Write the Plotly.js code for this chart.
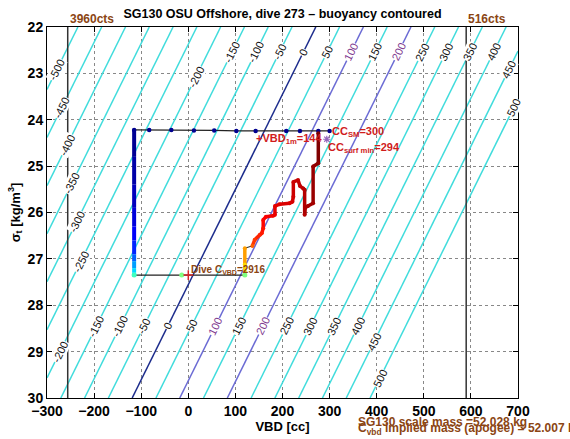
<!DOCTYPE html>
<html><head><meta charset="utf-8">
<script src="https://cdn.plot.ly/plotly-3.0.1.min.js"></script>
<style>html,body{margin:0;padding:0;background:#fff;}#chart{width:570px;height:439px;}</style>
</head><body><div id="chart"></div>
<script>
// ---- buoyancy plane (g) read at the plot corners ----
const cornerVBD = [-300, 700];
const cornerSigma = [22, 30];
const cornerBuoy = [[-565, 425], [-179, 811]];
const levelStart = -500, levelEnd = 500, levelStep = 50;
const highlightLevels = [0, 100, 200];
const highlightColors = ['#1c2c8c', '#6b6bd4', '#6b6bd4'];

// ---- contour label placement: level and sigma where the label sits ----
const labelLevels = [-500,-450,-400,-350,-300,-250,-200,-200,
  -150,-100,-50,0,50,100,150,200,250,300,350,400,450,500,
  -150,-100,-50,0,50,100,150,200,250,300,350,400,450,500];
const labelSigmas = [22.93,23.75,24.54,25.37,26.2,27.06,23.07,29.0,
  22.54,22.54,22.54,22.54,22.54,22.54,22.54,22.54,22.54,22.54,22.54,22.54,22.93,23.75,
  28.45,28.45,28.45,28.45,28.45,28.45,28.45,28.45,28.45,28.45,28.45,28.45,28.79,29.58];

// ---- dive: descent (constant VBD) ----
const descVBD = [-115,-115,-115,-115,-115,-115,-115,-115,-115,-115,-115];
const descSigma = [24.22,24.8,25.4,25.9,26.3,26.6,26.9,27.05,27.2,27.3,27.35];
const descT = [0.0,0.02,0.04,0.06,0.09,0.12,0.16,0.22,0.28,0.34,0.38];

// ---- apogee pump ----
const apoVBD = [-115, -14, 0, 120];
const apoSigma = [27.35, 27.35, 27.35, 27.35];

// ---- ascent ----
const ascVBD = [120,120,120,136,141,152,156,159,159,165,180,184,184,194,215,221,223,223,233,237,244,247,247,248,254,265,265,276,276];
const ascSigma = [27.35,27.12,26.77,26.72,26.59,26.48,26.45,26.34,26.16,26.09,26.07,26.05,25.86,25.82,25.80,25.77,25.66,25.34,25.30,25.43,25.48,25.51,26.05,25.90,25.86,25.80,25.01,24.94,24.29];
const ascT = [0.60,0.66,0.72,0.78,0.82,0.84,0.85,0.86,0.87,0.88,0.89,0.895,0.90,0.905,0.91,0.915,0.92,0.925,0.93,0.935,0.94,0.945,0.95,0.955,0.96,0.965,0.975,0.985,1.0];

// ---- surface line ----
const surfVBD = [-115,-83,-36,12,55,102,143,208,237,276,300];
const surfSigma = [24.22,24.22,24.22,24.23,24.23,24.24,24.24,24.24,24.24,24.24,24.24];

// ---- count limits ----
const countVBD = [-256, 590];
const countLabels = ['3960cts', '516cts'];

const CYAN = '#40dcdc', BROWN = '#8b4513', RED = '#d01c1c';
const FONT = 'Liberation Sans, Arial, sans-serif';

function jet(t){
  const c = v => Math.round(255*Math.max(0, Math.min(1, v)));
  return 'rgb(' + c(1.5-Math.abs(4*t-3)) + ',' + c(1.5-Math.abs(4*t-2)) + ',' + c(1.5-Math.abs(4*t-1)) + ')';
}
function buildScale(){
  const sc = [[0, CYAN]];
  highlightLevels.forEach((L,i)=>{
    const p = (L-levelStart)/(levelEnd-levelStart);
    sc.push([p-0.01, CYAN],[p-0.004, highlightColors[i]],[p+0.004, highlightColors[i]],[p+0.01, CYAN]);
  });
  sc.push([1, CYAN]);
  return sc;
}
function labelVBD(level, sigma){
  const zTL = cornerBuoy[0][0], zTR = cornerBuoy[0][1], zBL = cornerBuoy[1][0];
  const fs = (sigma-cornerSigma[0])/(cornerSigma[1]-cornerSigma[0]);
  return cornerVBD[0] + (cornerVBD[1]-cornerVBD[0])*(level - zTL - fs*(zBL-zTL))/(zTR-zTL);
}

const traces = [];
traces.push({
  type:'contour', x: cornerVBD, y: cornerSigma, z: cornerBuoy,
  autocontour:false,
  contours:{start:levelStart, end:levelEnd, size:levelStep, coloring:'lines', showlabels:false},
  colorscale: buildScale(), showscale:false, line:{width:1.5}, hoverinfo:'skip'
});

// surface line
traces.push({x:surfVBD, y:surfSigma, mode:'lines+markers', line:{color:'#222', width:1.3},
  marker:{color:'#00008f', size:4.5}, hoverinfo:'skip'});
// apogee line
traces.push({x:apoVBD, y:apoSigma, mode:'lines', line:{color:'#222', width:1.3}, hoverinfo:'skip'});
// thin path through ascent
traces.push({x:ascVBD, y:ascSigma, mode:'lines', line:{color:'#222', width:1}, hoverinfo:'skip'});
// colored descent segments
for(let i=0;i<descVBD.length-1;i++){
  traces.push({x:[descVBD[i],descVBD[i+1]], y:[descSigma[i],descSigma[i+1]], mode:'lines',
    line:{color:jet(descT[i+1]), width:4}, hoverinfo:'skip'});
}
// colored ascent segments
for(let i=0;i<ascVBD.length-1;i++){
  if(i===2) continue;
  traces.push({x:[ascVBD[i],ascVBD[i+1]], y:[ascSigma[i],ascSigma[i+1]], mode:'lines',
    line:{color:jet(ascT[i+1]), width:3.5}, hoverinfo:'skip'});
}
traces.push({x:ascVBD, y:ascSigma, mode:'markers', marker:{color:ascT.map(jet), size:4}, hoverinfo:'skip'});
// apogee markers
traces.push({x:[apoVBD[0], apoVBD[1], apoVBD[3]], y:[apoSigma[0], apoSigma[1], apoSigma[3]], mode:'markers',
  marker:{color:['#40ffc0','#80ff80','#80ff80'], size:5}, hoverinfo:'skip'});
traces.push({x:[apoVBD[2]], y:[apoSigma[2]], mode:'markers',
  marker:{symbol:'cross-thin-open', size:7, line:{color:RED, width:1.5}}, hoverinfo:'skip'});
// CC surf min marker
traces.push({x:[294], y:[24.42], mode:'markers',
  marker:{symbol:'asterisk-open', size:6, line:{color:RED, width:1.2}}, hoverinfo:'skip'});

const annotations = [];
labelLevels.forEach((L,i)=>{
  const hl = (L===100 || L===200);
  annotations.push({x:labelVBD(L, labelSigmas[i]), y:labelSigmas[i], xref:'x', yref:'y',
    text:String(L), showarrow:false, textangle:-63.7, bgcolor:'#fff', borderpad:0,
    font:{family:FONT, size:11, color: hl ? '#803a90' : '#111'}});
});
countVBD.forEach((v,i)=>{
  annotations.push({x:v, y:1, xref:'x', yref:'paper', xanchor:'left', yanchor:'bottom', yshift:-1,
    text:countLabels[i], showarrow:false, font:{family:FONT, size:12, color:BROWN, weight:'bold'}});
});
annotations.push({x:140, y:24.42, xref:'x', yref:'y', xanchor:'left', yanchor:'middle', showarrow:false,
  text:'+VBD<sub>1m</sub>=144', font:{family:FONT, size:11, color:RED, weight:'bold'}});
annotations.push({x:300, y:24.27, xref:'x', yref:'y', xanchor:'left', yanchor:'middle', showarrow:false,
  text:'CC<sub>SM</sub>=300', font:{family:FONT, size:11, color:RED, weight:'bold'}});
annotations.push({x:292, y:24.6, xref:'x', yref:'y', xanchor:'left', yanchor:'middle', showarrow:false,
  text:'CC<sub>surf min</sub>=294', font:{family:FONT, size:11, color:RED, weight:'bold'}});
annotations.push({x:2, y:27.25, xref:'x', yref:'y', xanchor:'left', yanchor:'middle', showarrow:false,
  text:'Dive C<sub>VBD</sub>=2916', font:{family:FONT, size:10, color:BROWN, weight:'bold'}});
annotations.push({x:(356-47)/471, y:(398-421.7)/371, xref:'paper', yref:'paper', xanchor:'left', yanchor:'middle', showarrow:false,
  text:'SG130 scale mass =52.028 kg', font:{family:FONT, size:12, color:BROWN, weight:'bold'}});
annotations.push({x:(356-47)/471, y:(398-429)/371, xref:'paper', yref:'paper', xanchor:'left', yanchor:'middle', showarrow:false,
  text:'C<sub>vbd</sub> implied mass (apogee) = 52.007 kg', font:{family:FONT, size:12, color:BROWN, weight:'bold'}});

const axisCommon = {showline:true, mirror:'ticks', linecolor:'#000', linewidth:1, ticks:'inside', ticklen:5,
  tickcolor:'#000', showgrid:true, gridcolor:'#888', griddash:'dot', gridwidth:1, zeroline:false,
  tickfont:{family:FONT, size:14, color:'#000', weight:'bold'}};

const layout = {
  width:570, height:439, margin:{l:47, r:52, t:27, b:41}, showlegend:false,
  paper_bgcolor:'#fff', plot_bgcolor:'#fff',
  title:{text:'SG130 OSU Offshore, dive 273 – buoyancy contoured', x:0.5, xref:'paper', y:1-14/439, yref:'container',
    yanchor:'middle', font:{family:FONT, size:12.5, color:'#000', weight:'bold'}},
  xaxis: Object.assign({}, axisCommon, {range:[-300,700], dtick:100, tick0:0,
    title:{text:'VBD [cc]', standoff:2, font:{family:FONT, size:13, color:'#000', weight:'bold'}}}),
  yaxis: Object.assign({}, axisCommon, {range:[30,22], dtick:1, tick0:0,
    title:{text:'σ<sub>t</sub> [kg/m<sup>3</sup>]', standoff:4, font:{family:FONT, size:13, color:'#000', weight:'bold'}}}),
  shapes: countVBD.map(v=>({type:'line', xref:'x', yref:'paper', x0:v, x1:v, y0:0, y1:1, line:{color:'#333', width:1.5}})),
  annotations: annotations
};

Plotly.newPlot('chart', traces, layout, {staticPlot:true, displayModeBar:false});
</script></body></html>
